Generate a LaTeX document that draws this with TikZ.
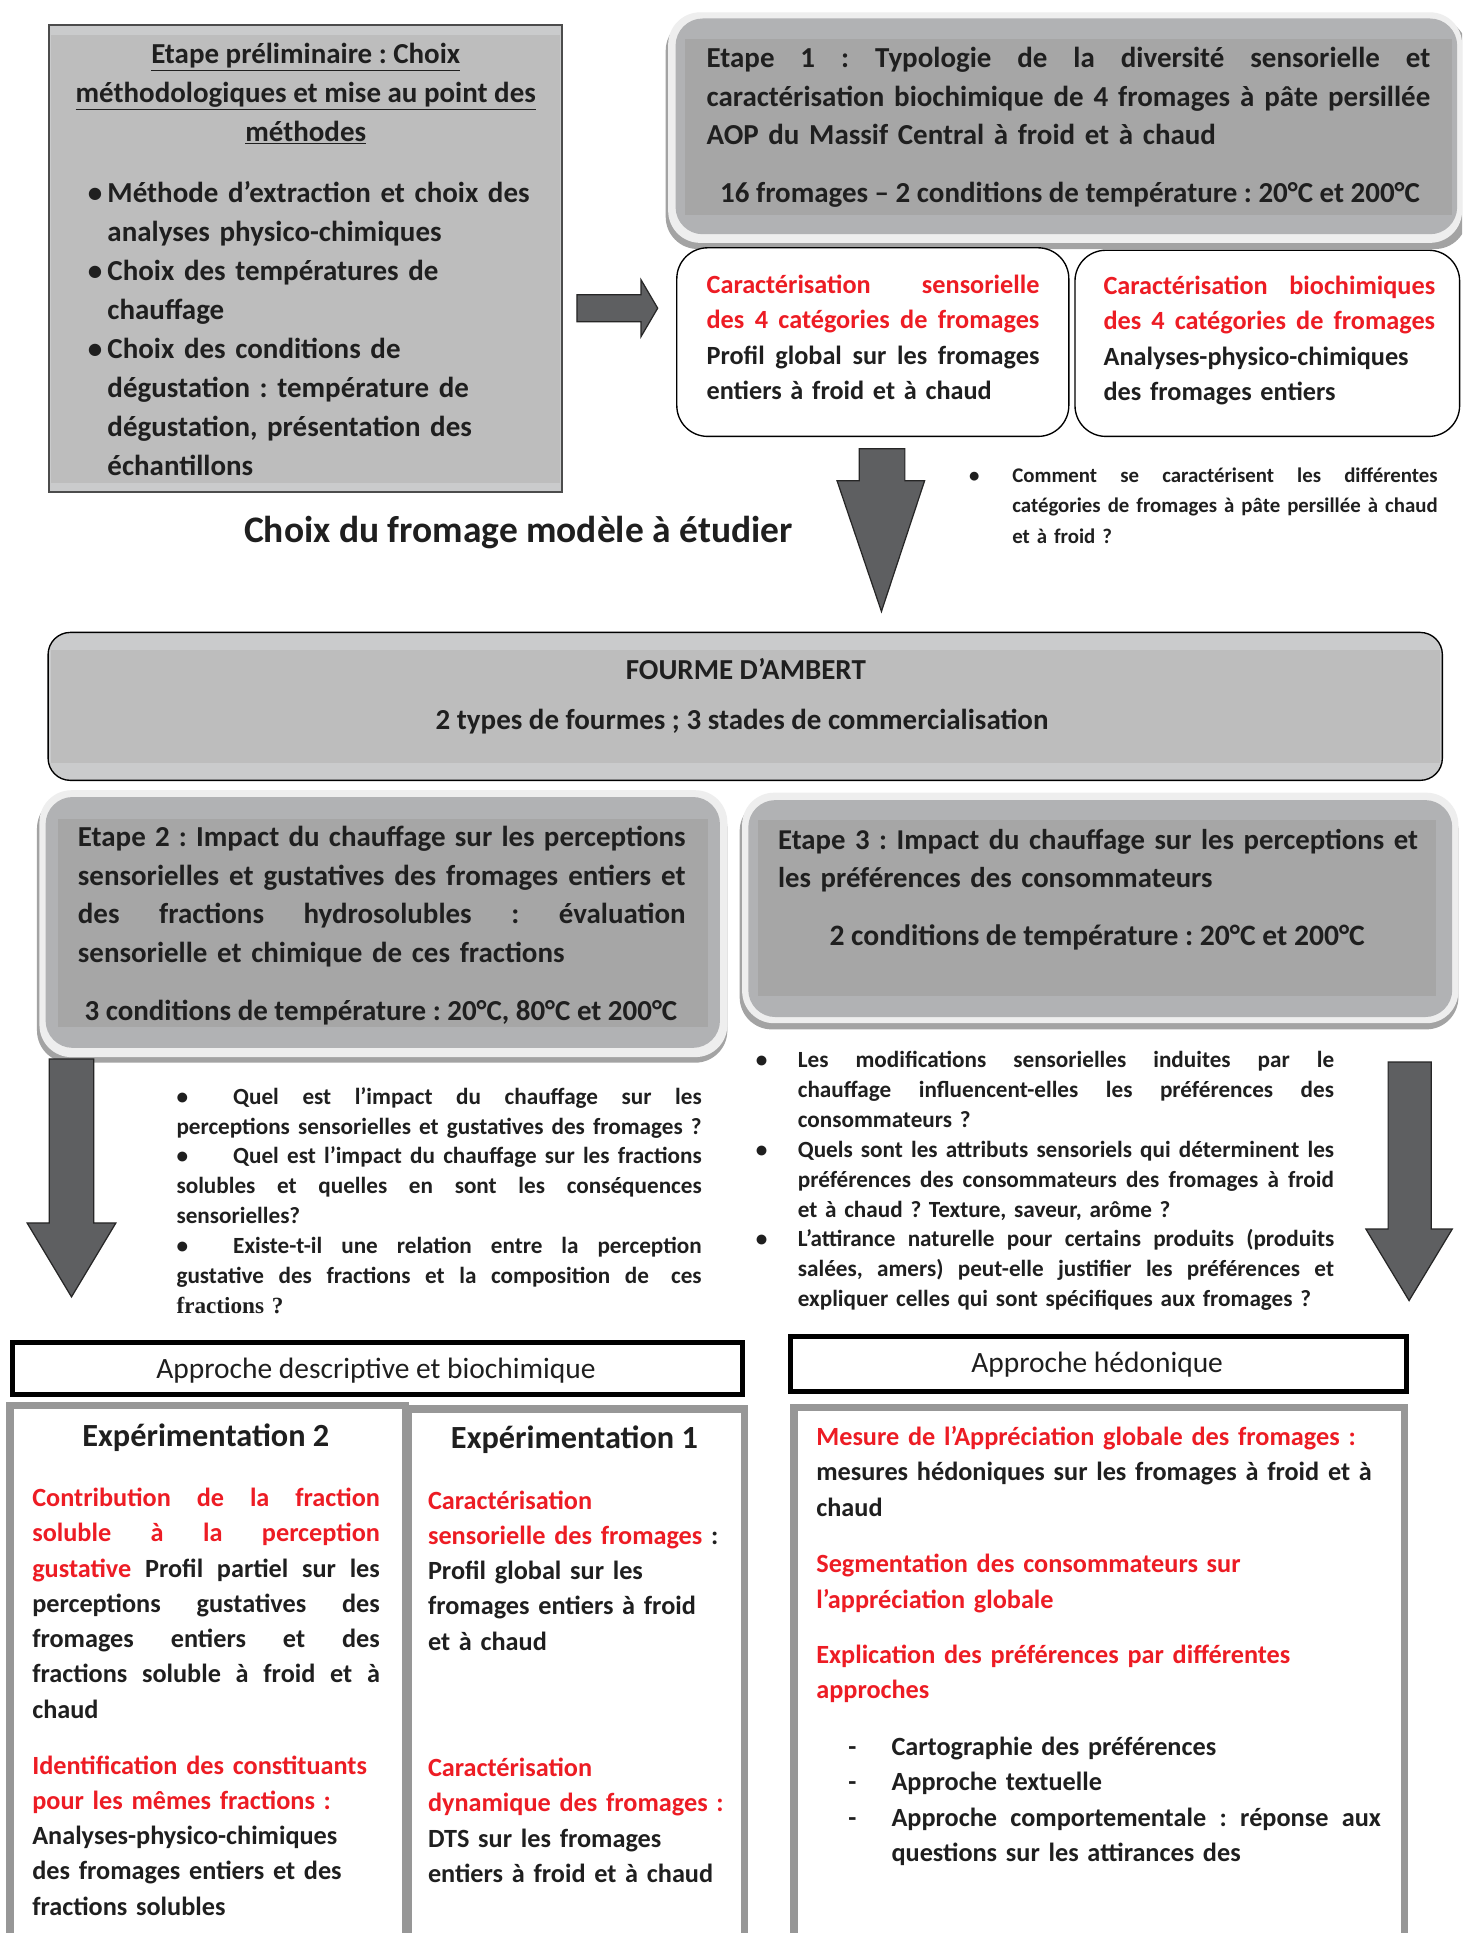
\documentclass[tikz,border=0pt]{standalone}
\usepackage{fontspec}
\setmainfont{Carlito}
\newfontfamily\serifbold{Liberation Serif}
\usepackage{xcolor}
\usetikzlibrary{positioning}
\makeatletter
\newcommand{\fillline}[2]{\leavevmode\hbox to #1{\fw@loop#2 \@nil}}
\def\fw@loop#1 #2\@nil{#1\if\relax\detokenize{#2}\relax\else\hfill\fw@loop#2\@nil\fi}
\makeatother
\newcommand{\bulitem}[1]{\leavevmode\llap{\makebox[#1][l]{\textbullet}}}
\newcommand{\dashitem}{\leavevmode\llap{\makebox[35pt][l]{-}}}
\definecolor{ink}{HTML}{1F1F1F}
\definecolor{redTxt}{HTML}{ED1C24}
\definecolor{arrowGray}{HTML}{5E5F61}
\definecolor{boxGray}{HTML}{BDBDBD}
\definecolor{bandLight}{HTML}{CACBCC}
\definecolor{stepFill}{HTML}{B1B2B4}
\definecolor{stepBand}{HTML}{A6A6A6}
\definecolor{frameLight}{HTML}{EEEEEE}
\definecolor{shadowGray}{HTML}{A3A3A3}
\definecolor{expBorder}{HTML}{979797}

\begin{document}
\frenchspacing
\begin{tikzpicture}[
    x=1pt,y=-1pt,
    every node/.style={inner sep=0pt,text=ink},
    body/.style ={font={\fontsize{23.5}{31.3}\selectfont\bfseries}},
    card/.style ={font={\fontsize{21.3}{28.6}\selectfont\bfseries}},
    quest/.style={font={\fontsize{18.8}{24.2}\selectfont\bfseries}},
    para/.style ={anchor=north west,align=left},
    stepshadow/.style={fill=shadowGray,rounded corners=26},
    stepframe/.style ={fill=frameLight,rounded corners=26},
    stepinner/.style ={fill=stepFill,rounded corners=22},
    stepband/.style  ={fill=stepBand},
    whitecard/.style ={draw=black,line width=1.1,fill=white,rounded corners=25},
    blockarrow/.style={fill=arrowGray,draw=black!85,line width=1},
    approche/.style  ={draw=black,line width=4},
    expframe/.style  ={draw=expBorder,line width=6}
  ]
  \clip (0,0) rectangle (1186,1568);
  \fill[white] (0,0) rectangle (1186,1568);

  % etape preliminaire
  \filldraw[fill=bandLight,draw=black!70,line width=1.5] (40,20) rectangle (456,399);
  \fill[boxGray] (41.5,28) rectangle (454.5,392);
  \node[body,anchor=north,align=center] (prelimTitle) at (248,35.1)
    {\underline{Etape préliminaire : Choix}\\
     \underline{méthodologiques et mise au point des}\\
     \underline{méthodes}};
  \node[body,para,text width=370,font={\fontsize{23.5}{31.6}\selectfont\bfseries}] (prelimList) at (87,147.1)
    {\bulitem{16pt}Méthode d’extraction et choix des\\
     analyses physico-chimiques\\
     \bulitem{16pt}Choix des températures de\\
     chauffage\\
     \bulitem{16pt}Choix des conditions de\\
     dégustation : température de\\
     dégustation, présentation des\\
     échantillons};

  % etape 1
  \fill[stepshadow] (540,15) rectangle (1190,202);
  \fill[stepframe] (542,10) rectangle (1186,197);
  \fill[stepinner] (548,15) rectangle (1182,190);
  \fill[stepband] (556,32) rectangle (1178,174);
  \node[body,para,text width=587] (step1Text) at (573,38.1)
    {\fillline{587pt}{Etape 1 : Typologie de la diversité sensorielle et}\\
     \fillline{587pt}{caractérisation biochimique de 4 fromages à pâte persillée}\\
     AOP du Massif Central à froid et à chaud};
  \node[body] (step1Cond) at (868,158)
    {16 fromages – 2 conditions de température : 20°C et 200°C};

  \draw[whitecard] (549,201) rectangle (867,354);
  \draw[whitecard] (872,203) rectangle (1184,354);
  \node[card,para,text width=270] (sensCard) at (573,222.9)
    {\textcolor{redTxt}{\fillline{270pt}{Caractérisation sensorielle}}\\
     \textcolor{redTxt}{\fillline{270pt}{des 4 catégories de fromages}}\\
     \fillline{270pt}{Profil global sur les fromages}\\
     entiers à froid et à chaud};
  \node[card,para,text width=269] (biochCard) at (895,223.9)
    {\textcolor{redTxt}{\fillline{269pt}{Caractérisation biochimiques}}\\
     \textcolor{redTxt}{\fillline{269pt}{des 4 catégories de fromages}}\\
     Analyses-physico-chimiques\\
     des fromages entiers};

  % fleches du haut
  \filldraw[blockarrow] (468,239) -- (520,239) -- (520,227) -- (533.5,250)
    -- (520,273) -- (520,261) -- (468,261) -- cycle;
  \filldraw[blockarrow] (697,364) -- (734,364) -- (734,390) -- (750,390)
    -- (715,496) -- (679,390) -- (697,390) -- cycle;

  \node[font={\fontsize{30.4}{34}\selectfont\bfseries}] (choixLabel) at (420.5,432)
    {Choix du fromage modèle à étudier};
  \node[quest,para,text width=345,font={\fontsize{16.9}{24.5}\selectfont\bfseries}] (qTypo) at (821,379.5)
    {\bulitem{35pt}\fillline{345pt}{Comment se caractérisent les différentes}\\
     \fillline{345pt}{catégories de fromages à pâte persillée à chaud}\\
     et à froid ?};

  % fourme d'ambert
  \filldraw[fill=bandLight,draw=black,line width=1.1,rounded corners=18] (39,513) rectangle (1170,633);
  \fill[boxGray] (41,527) rectangle (1168,619);
  \node[body] (fourmeTitle) at (605,543) {FOURME D’AMBERT};
  \node[body] (fourmeSub) at (602,585) {2 types de fourmes ; 3 stades de commercialisation};

  % etape 2
  \fill[stepshadow] (30,646) rectangle (590,862);
  \fill[stepframe] (32,641) rectangle (590,857.5);
  \fill[stepinner] (37,646.5) rectangle (584,850);
  \fill[stepband] (47,664) rectangle (574,833);
  \node[body,para,text width=493] (step2Text) at (63,670.1)
    {\fillline{493pt}{Etape 2 : Impact du chauffage sur les perceptions}\\
     \fillline{493pt}{sensorielles et gustatives des fromages entiers et}\\
     \fillline{493pt}{des fractions hydrosolubles : évaluation}\\
     sensorielle et chimique de ces fractions};
  \node[body] (step2Cond) at (309,821)
    {3 conditions de température : 20°C, 80°C et 200°C};

  % etape 3
  \fill[stepshadow] (600,648) rectangle (1183,835);
  \fill[stepframe] (602,643) rectangle (1183,830);
  \fill[stepinner] (607,649) rectangle (1178,825);
  \fill[stepband] (615,665) rectangle (1165,808);
  \node[body,para,text width=519,font={\fontsize{23.3}{31.3}\selectfont\bfseries}] (step3Text) at (631,672.1)
    {\fillline{519pt}{Etape 3 : Impact du chauffage sur les perceptions et}\\
     les préférences des consommateurs};
  \node[body,font={\fontsize{24}{28}\selectfont\bfseries}] (step3Cond) at (890,760)
    {2 conditions de température : 20°C et 200°C};

  % fleches laterales
  \filldraw[blockarrow] (40,859) -- (76,859) -- (76,992) -- (94,992)
    -- (58,1052) -- (22,992) -- (40,992) -- cycle;
  \filldraw[blockarrow] (1126,861.5) -- (1161,861.5) -- (1161,997) -- (1178,997)
    -- (1143,1055) -- (1108,997) -- (1126,997) -- cycle;

  \node[quest,para,text width=426] (qChauffe) at (143,881.8)
    {\fillline{426pt}{\makebox[46pt][l]{\textbullet}Quel est l’impact du chauffage sur les}\\
     \fillline{426pt}{perceptions sensorielles et gustatives des fromages ?}\\
     \fillline{426pt}{\makebox[46pt][l]{\textbullet}Quel est l’impact du chauffage sur les fractions}\\
     \fillline{426pt}{solubles et quelles en sont les conséquences}\\
     sensorielles?\\
     \fillline{426pt}{\makebox[46pt][l]{\textbullet}Existe-t-il une relation entre la perception}\\
     \fillline{426pt}{gustative des fractions et la composition de\hspace{6pt} ces}\\
     {\serifbold fractions ?}};
  \node[quest,para,text width=435] (qConso) at (647,852.9)
    {\bulitem{34pt}\fillline{435pt}{Les modifications sensorielles induites par le}\\
     \fillline{435pt}{chauffage influencent-elles les préférences des}\\
     consommateurs ?\\
     \bulitem{34pt}\fillline{435pt}{Quels sont les attributs sensoriels qui déterminent les}\\
     \fillline{435pt}{préférences des consommateurs des fromages à froid}\\
     et à chaud ? Texture, saveur, arôme ?\\
     \bulitem{34pt}\fillline{435pt}{L’attirance naturelle pour certains produits (produits}\\
     \fillline{435pt}{salées, amers) peut-elle justifier les préférences et}\\
     expliquer celles qui sont spécifiques aux fromages ?};

  % approches
  \draw[approche] (10,1089) rectangle (602,1131);
  \node[font={\fontsize{23.9}{28}\selectfont}] (descHead) at (305,1112) {Approche descriptive et biochimique};
  \draw[approche] (641,1084) rectangle (1141,1129);
  \node[font={\fontsize{23.9}{28}\selectfont}] (hedoHead) at (890,1107) {Approche hédonique};

  \draw[expframe] (8,1140) rectangle (329,1600);
  \draw[expframe] (331,1143) rectangle (604,1600);
  \draw[expframe] (644,1141.5) rectangle (1139.5,1600);

  % experimentation 2
  \node[font={\fontsize{26.2}{30}\selectfont\bfseries}] (exp2Title) at (167,1166) {Expérimentation 2};
  \node[card,para,text width=282] (exp2Contrib) at (26,1206.9)
    {\textcolor{redTxt}{\fillline{282pt}{Contribution de la fraction}}\\
     \textcolor{redTxt}{\fillline{282pt}{soluble à la perception}}\\
     \fillline{282pt}{\textcolor{redTxt}{gustative} Profil partiel sur les}\\
     \fillline{282pt}{perceptions gustatives des}\\
     \fillline{282pt}{fromages entiers et des}\\
     \fillline{282pt}{fractions soluble à froid et à}\\
     chaud};
  \node[card,para,text width=282] (exp2Ident) at (26,1423.9)
    {\textcolor{redTxt}{Identification des constituants}\\
     \textcolor{redTxt}{pour les mêmes fractions :}\\
     Analyses-physico-chimiques\\
     des fromages entiers et des\\
     fractions solubles};

  % experimentation 1
  \node[font={\fontsize{26.2}{30}\selectfont\bfseries}] (exp1Title) at (466,1168) {Expérimentation 1};
  \node[card,para,text width=250] (exp1Sens) at (347,1208.9)
    {\textcolor{redTxt}{Caractérisation}\\
     \textcolor{redTxt}{sensorielle des fromages} :\\
     Profil global sur les\\
     fromages entiers à froid\\
     et à chaud};
  \node[card,para,text width=250] (exp1Dyn) at (347,1425.9)
    {\textcolor{redTxt}{Caractérisation}\\
     \textcolor{redTxt}{dynamique des fromages :}\\
     DTS sur les fromages\\
     entiers à froid et à chaud};

  % approche hedonique
  \node[card,para,text width=470] (hedoMesure) at (662,1156.9)
    {\textcolor{redTxt}{Mesure de l’Appréciation globale des fromages :}\\
     mesures hédoniques sur les fromages à froid et à\\
     chaud\\[17.4pt]
     \textcolor{redTxt}{Segmentation des consommateurs sur}\\
     \textcolor{redTxt}{l’appréciation globale}\\[16.4pt]
     \textcolor{redTxt}{Explication des préférences par différentes}\\
     \textcolor{redTxt}{approches}};
  \node[card,para,text width=397] (hedoList) at (723,1408.9)
    {\dashitem Cartographie des préférences\\
     \dashitem Approche textuelle\\
     \dashitem\fillline{397pt}{Approche comportementale : réponse aux}\\
     questions sur les attirances des};
\end{tikzpicture}
\end{document}
